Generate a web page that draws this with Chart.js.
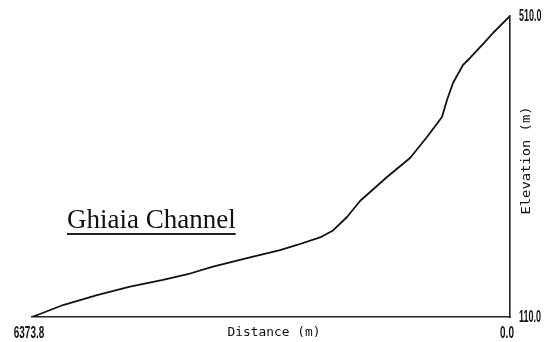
<!DOCTYPE html>
<html>
<head>
<meta charset="utf-8">
<script src="https://cdn.jsdelivr.net/npm/chart.js@4/dist/chart.umd.min.js"></script>
<style>
  html, body { margin: 0; padding: 0; background: #fff; }
  #wrap { width: 547px; height: 342px; position: relative; }
</style>
</head>
<body>
<div id="wrap"><canvas id="c" width="547" height="342"></canvas></div>
<script>
// Longitudinal profile of the channel: distance from the outlet (m) and bed elevation (m)
const distance = [6373.8, 6267, 5960, 5507, 5067, 4627, 4267, 3960, 3507, 3067, 2840, 2533, 2360, 2173, 2000, 1640, 1333, 1107, 907, 840, 760, 627, 533, 333, 227, 0];
const elevation = [110, 114.0, 125.9, 139.2, 150.3, 159.2, 167.8, 176.8, 188.4, 199.0, 205.7, 215.7, 225.0, 242.9, 264.2, 296, 321.3, 349.2, 375.8, 398.4, 421, 444.9, 454.2, 475.5, 487.4, 510];

const xTicks = [6373.8, 0.0];
const yTicks = [110.0, 510.0];
const xTitle = 'Distance (m)';
const yTitle = 'Elevation (m)';
const chartTitle = 'Ghiaia Channel';

const points = distance.map((d, i) => ({ x: d, y: elevation[i] }));

// Axis labels drawn in a narrow plotter-like lettering
const labelPlugin = {
  id: 'profileLabels',
  afterDraw(chart) {
    const { ctx, chartArea, scales } = chart;
    const xs = scales.x, ys = scales.y;

    function narrowText(txt, x, y, font, squeeze, align) {
      ctx.save();
      ctx.font = font;
      ctx.fillStyle = '#111';
      ctx.textBaseline = 'middle';
      const w = ctx.measureText(txt).width * squeeze;
      let left = x;
      if (align === 'center') left = x - w / 2;
      else if (align === 'right') left = x - w;
      ctx.translate(left, y);
      ctx.scale(squeeze, 1);
      ctx.textAlign = 'left';
      ctx.fillText(txt, 0, 0);
      ctx.restore();
    }

    // x tick values
    xTicks.forEach(v => {
      narrowText(v.toFixed(1), xs.getPixelForValue(v) - 3, chartArea.bottom + 17,
        'bold 16px "Liberation Sans"', 0.62, 'center');
    });
    // y tick values, to the right of the axis
    yTicks.forEach(v => {
      narrowText(v.toFixed(1), chartArea.right + 9, ys.getPixelForValue(v) + 1,
        'bold 16px "Liberation Sans"', 0.56, 'left');
    });

    // axis titles
    narrowText(xTitle, (chartArea.left + chartArea.right) / 2 + 3, chartArea.bottom + 16,
      '12px "DejaVu Sans Mono"', 1.07, 'center');

    ctx.save();
    ctx.translate(chartArea.right + 17, (chartArea.top + chartArea.bottom) / 2 - 6);
    ctx.rotate(-Math.PI / 2);
    narrowText(yTitle, 0, 0, '12px "DejaVu Sans Mono"', 1.15, 'center');
    ctx.restore();

    // underlined channel name
    ctx.save();
    ctx.font = '27px "Liberation Serif"';
    ctx.fillStyle = '#111';
    ctx.textBaseline = 'alphabetic';
    ctx.textAlign = 'left';
    const tx = 67, ty = 228;
    ctx.fillText(chartTitle, tx, ty);
    const tw = ctx.measureText(chartTitle).width;
    ctx.strokeStyle = '#222';
    ctx.lineWidth = 1.8;
    ctx.beginPath();
    ctx.moveTo(tx, 234);
    ctx.lineTo(tx + tw, 234);
    ctx.stroke();
    ctx.restore();
  }
};

new Chart(document.getElementById('c'), {
  type: 'line',
  data: {
    datasets: [{
      data: points,
      borderColor: '#111',
      borderWidth: 1.8,
      pointRadius: 0,
      tension: 0,
      borderJoinStyle: 'round',
      fill: false
    }]
  },
  options: {
    responsive: false,
    animation: false,
    events: [],
    layout: { padding: { left: 32, right: 37, top: 16, bottom: 25 } },
    plugins: { legend: { display: false }, tooltip: { enabled: false }, title: { display: false } },
    scales: {
      x: {
        type: 'linear',
        reverse: true,
        min: 0,
        max: 6373.8,
        grid: { display: false, drawTicks: false },
        border: { display: true, color: '#222', width: 1.6 },
        ticks: { display: false }
      },
      y: {
        type: 'linear',
        position: 'right',
        min: 110,
        max: 510,
        grid: { display: false, drawTicks: false },
        border: { display: true, color: '#222', width: 1.6 },
        ticks: { display: false }
      }
    }
  },
  plugins: [labelPlugin]
});
</script>
</body>
</html>
